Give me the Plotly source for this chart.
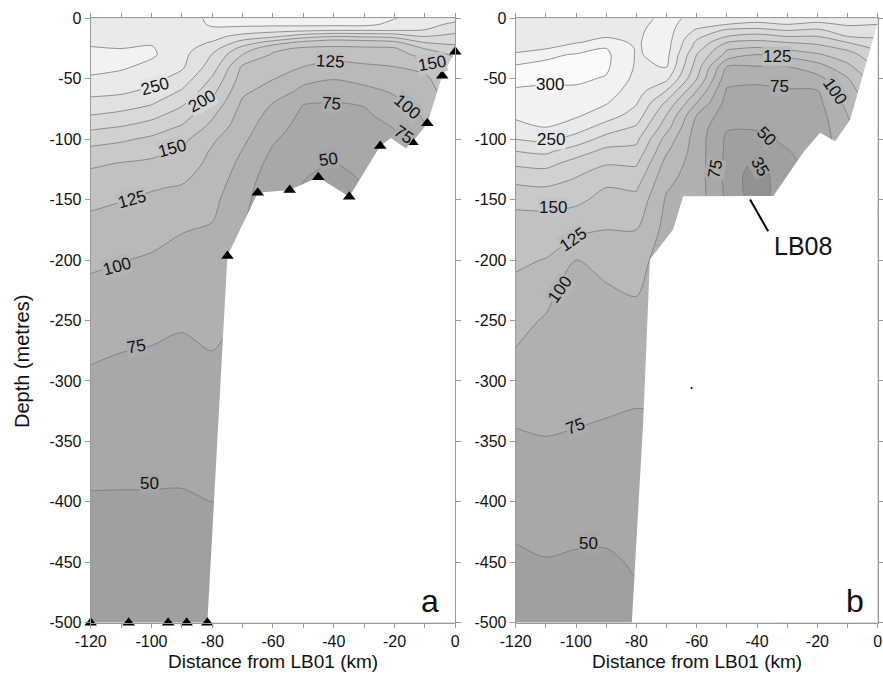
import numpy as np
import plotly.graph_objects as go

FONT = "Liberation Sans, Arial, sans-serif"

# ---------------- grid (distance from LB01, depth) ----------------
distance_km = [-120, -110, -100, -90, -80, -70, -60, -50, -40, -30, -20, -10, 0]
depth_m = [0, -5, -10, -15, -20, -25, -30, -40, -50, -60, -70, -80, -90, -100,
           -110, -120, -130, -140, -150, -175, -200, -250, -300, -350, -400, -450, -500]

# ---------------- panel a : value profiles per distance column ----------------
a_m120 = [262,265,268,271,273,276,282,282,272,258,242,225,205,185,168,154,145,138,130,117,104,86,71,59,48,44,41]
a_m110 = [262,265,268,271,273,275,280,279,266,255,238,219,199,179,163,149,141,134,126,113,101,83,68,58,48,44,41]
a_m100 = [263,266,269,271,273,277,279,268,258,245,228,208,188,170,156,146,138,127,121,109,97,80,68,58,48,44,41]
a_m90  = [262,263,263,262,261,260,258,254,240,223,205,188,172,157,147,139,131,123,117,101,93,77,67,57,48,44,41]
a_m80  = [281,278,270,259,248,236,224,213,197,183,169,154,143,129,122,118,114,110,106,98,91,80,70,60,50,45,42]
a_m70  = [282,280,265,240,215,190,175,146,138,130,121,115,110,105,99,94,90,86,83,76,74,72,66,58,50,45,42]
a_m60  = [285,281,258,230,188,156,147,138,126,115,100,92,86,78,72,66,61,57,55,53,52,50,48,46,44,42,41]
a_m50  = [285,282,254,210,168,146,138,125,107,94,76,70,65,61,58,55,51,49,48,47,47,46,45,44,43,42,41]
a_m40  = [285,282,250,200,158,146,136,116,101,87,74,68,63,58,54,50,46,44,43,43,43,43,43,43,42,42,41]
a_m30  = [285,282,250,203,162,146,138,121,107,94,77,71,66,62,58,55,52,50,49,48,47,46,45,44,43,42,41]
a_m20  = [276,268,250,208,168,147,141,125,113,103,95,85,76,71,68,66,64,62,60,58,56,54,52,50,48,46,44]
a_m10  = [265,258,249,225,200,176,158,134,119,114,108,103,99,96,94,92,90,88,86,84,82,80,78,76,74,72,70]
a_0    = [258,245,232,218,205,192,180,165,152,142,134,127,121,116,112,108,105,102,100,97,95,92,90,88,86,84,82]

# ---------------- panel b ----------------
b_m120 = [265,267,268,270,272,273,276,304,308,297,289,280,267,250,225,204,187,171,154,142,129,109,89,71,59,46,40]
b_m110 = [266,268,270,271,272,274,295,306,305,295,287,281,276,256,230,208,189,174,156,140,124,97,86,74,61,49,41]
b_m100 = [268,270,272,273,274,285,302,308,304,296,290,279,262,240,212,190,177,166,155,132,100,90,82,73,61,47,41]
b_m90  = [270,272,273,274,280,301,305,304,298,287,277,262,240,215,193,177,162,150,143,125,106,90,83,70,60,47,41]
b_m80  = [268,270,271,272,273,273,273,272,268,262,252,240,222,206,192,178,165,153,143,125,106,96,80,69,60,52,44]
b_m70  = [280,282,285,286,285,284,282,276,256,224,195,175,160,140,128,116,108,102,97,92,92,90,80,70,60,52,44]
b_m60  = [270,262,246,232,220,212,200,188,176,150,125,100,90,88,88,88,88,88,88,86,84,78,70,65,58,52,45]
b_m50  = [265,250,220,200,175,153,142,100,84,72,66,60,52,46,45,44,43,44,46,50,55,60,62,60,56,50,45]
b_m40  = [262,244,216,190,168,146,125,99,78,72,66,59,52,45,38,32,28,27,28,35,40,45,50,52,52,50,46]
b_m30  = [262,250,225,200,175,155,133,100,84,73,68,63,58,54,49,46,45,45,46,48,50,52,54,55,55,54,52]
b_m20  = [262,244,220,200,181,163,147,114,92,74,68,64,61,59,58,57,57,57,57,57,57,57,57,57,57,57,57]
b_m10  = [265,253,238,225,200,180,164,144,123,114,107,100,96,93,90,88,86,85,84,82,80,78,76,74,72,70,68]
b_0    = [260,250,240,228,215,205,195,180,165,150,140,132,126,120,116,112,108,105,102,98,95,92,90,88,86,84,82]

# ---------------- stations / bathymetry ----------------
station_x_a = [-120, -107.5, -94.5, -88.4, -81.6, -75, -65, -54.5, -45.1, -34.9, -24.7, -19.1, -14.1, -9.2, -4.3, 0]
station_d_a = [-500, -500, -500, -500, -500, -196.6, -144.3, -142, -131.5, -147.6, -105.6, -95, -102.6, -86.9, -47.5, -27.6]

bottom_x_b = [-81.5, -77.7, -75.5, -67.8, -64.5, -34.6, -24.7, -19.1, -14.1, -9.1, 0]
bottom_d_b = [-500, -332, -199.6, -174.7, -147.2, -147, -111, -94.7, -101.6, -83.7, -3.6]

# ---------------- contour labels ----------------
a_lab_x = [-98.8, -83.5, -93.3, -106.5, -41.2, -40.7, -41.8, -7.8, -16.0, -17.1, -111.4, -104.9, -100.5]
a_lab_d = [-56.8, -69.0, -107.5, -150.3, -35.9, -70.3, -117.2, -37.2, -73.1, -96.5, -205.5, -271.7, -384.7]
a_lab_t = ['250', '200', '150', '125', '125', '75', '50', '150', '100', '75', '100', '75', '50']
a_lab_ang = [-15, -30, -15, -15, 3, 5, -8, -10, 40, 35, -15, -10, 0]

b_lab_x = [-108.7, -108.2, -107.5, -100.9, -105.3, -100.3, -95.9, -33.5, -32.4, -14.1, -36.8, -39.0, -53.9]
b_lab_d = [-54.7, -100.2, -156.8, -183.0, -224.5, -337.6, -434.3, -31.2, -56.0, -60.2, -97.5, -122.3, -125.0]
b_lab_t = ['300', '250', '150', '125', '100', '75', '50', '125', '75', '100', '50', '35', '75']
b_lab_ang = [0, 0, 0, -35, -55, -20, 0, 0, 0, 55, 45, 60, -80]

x_tick_vals = [-120, -110, -100, -90, -80, -70, -60, -50, -40, -30, -20, -10, 0]
x_tick_text = ['-120', '', '-100', '', '-80', '', '-60', '', '-40', '', '-20', '', '0']
y_tick_vals = [0, -50, -100, -150, -200, -250, -300, -350, -400, -450, -500]
y_tick_text = ['0', '-50', '-100', '-150', '-200', '-250', '-300', '-350', '-400', '-450', '-500']

# ---------------- build ----------------
za = np.array([a_m120, a_m110, a_m100, a_m90, a_m80, a_m70, a_m60, a_m50, a_m40, a_m30, a_m20, a_m10, a_0], float).T
zb = np.array([b_m120, b_m110, b_m100, b_m90, b_m80, b_m70, b_m60, b_m50, b_m40, b_m30, b_m20, b_m10, b_0], float).T

G_LO, G_HI = 160, 250
grey_scale = [[0, f'rgb({G_LO},{G_LO},{G_LO})'], [1, f'rgb({G_HI},{G_HI},{G_HI})']]
LINE = dict(color='#7a7a7a', width=0.8, smoothing=0.8)


def grey_at(v):
    g = G_LO + (v - 37.5) / 275.0 * (G_HI - G_LO)
    g = int(max(140, min(G_HI, g)))
    return f'rgb({g},{g},{g})'


def main_contour(z, xa, ya):
    return go.Contour(x=distance_km, y=depth_m, z=z, xaxis=xa, yaxis=ya,
                      autocontour=False,
                      contours=dict(start=50, end=300, size=25, coloring='fill', showlabels=False),
                      colorscale=grey_scale, showscale=False, line=LINE, hoverinfo='skip')


fig = go.Figure()
# panel a
fig.add_trace(main_contour(za, 'x', 'y'))
poly_ax = station_x_a[4:] + [0, station_x_a[4]]
poly_ay = station_d_a[4:] + [-500, -500]
fig.add_trace(go.Scatter(x=poly_ax, y=poly_ay, xaxis='x', yaxis='y', mode='lines', fill='toself',
                         fillcolor='white', line=dict(width=0, color='white'), hoverinfo='skip'))
fig.add_trace(go.Scatter(x=station_x_a, y=station_d_a, xaxis='x', yaxis='y', mode='markers',
                         marker=dict(symbol='triangle-up', size=11, color='black'),
                         cliponaxis=False, hoverinfo='skip'))

# panel b
fig.add_trace(main_contour(zb, 'x2', 'y2'))
fig.add_trace(go.Contour(x=distance_km, y=depth_m, z=-zb, xaxis='x2', yaxis='y2',
                         autocontour=False,
                         contours=dict(start=-35, end=-34, size=10, coloring='fill', showlabels=False),
                         colorscale=[[0, 'rgba(255,255,255,0)'], [1, 'rgb(146,146,146)']],
                         showscale=False, line=LINE, hoverinfo='skip'))
poly_bx = bottom_x_b + [0, bottom_x_b[0]]
poly_by = bottom_d_b + [-500, -500]
fig.add_trace(go.Scatter(x=poly_bx, y=poly_by, xaxis='x2', yaxis='y2', mode='lines', fill='toself',
                         fillcolor='white', line=dict(width=0, color='white'), hoverinfo='skip'))
lb08_x = [-42.3, -36.3]
lb08_d = [-149.9, -176.2]
fig.add_trace(go.Scatter(x=lb08_x, y=lb08_d, xaxis='x2', yaxis='y2', mode='lines',
                         line=dict(color='black', width=2), hoverinfo='skip'))
fig.add_trace(go.Scatter(x=[-61.7], y=[-305.9], xaxis='x2', yaxis='y2', mode='markers',
                         marker=dict(size=2, color='black'), hoverinfo='skip'))

# annotations
ann = []
for xs, ds, ts, angs, xr, yr in [(a_lab_x, a_lab_d, a_lab_t, a_lab_ang, 'x', 'y'),
                                  (b_lab_x, b_lab_d, b_lab_t, b_lab_ang, 'x2', 'y2')]:
    for xv, dv, tv, av in zip(xs, ds, ts, angs):
        lvl = float(tv)
        ann.append(dict(x=xv, y=dv, xref=xr, yref=yr, text=tv, showarrow=False, textangle=av,
                        xanchor='center', yanchor='middle',
                        font=dict(size=17, color='#111', family=FONT),
                        bgcolor=grey_at(lvl), borderpad=0))

ann.append(dict(x=-8.3, y=-482, xref='x', yref='y', text='a', showarrow=False,
                xanchor='center', yanchor='middle', font=dict(size=32, color='#111', family=FONT)))
ann.append(dict(x=-7.5, y=-482, xref='x2', yref='y2', text='b', showarrow=False,
                xanchor='center', yanchor='middle', font=dict(size=32, color='#111', family=FONT)))
ann.append(dict(x=-24.8, y=-188.6, xref='x2', yref='y2', text='LB08', showarrow=False,
                xanchor='center', yanchor='middle', font=dict(size=25, color='#111', family=FONT)))
ann.append(dict(x=22 / 883, y=1 - 362 / 686, xref='paper', yref='paper', text='Depth (metres)',
                showarrow=False, textangle=-90, xanchor='center', yanchor='middle',
                font=dict(size=20, color='#111', family=FONT)))
ann.append(dict(x=273 / 883, y=1 - 661 / 686, xref='paper', yref='paper', text='Distance from LB01 (km)',
                showarrow=False, xanchor='center', yanchor='middle',
                font=dict(size=19, color='#111', family=FONT)))
ann.append(dict(x=697 / 883, y=1 - 661 / 686, xref='paper', yref='paper', text='Distance from LB01 (km)',
                showarrow=False, xanchor='center', yanchor='middle',
                font=dict(size=19, color='#111', family=FONT)))

AX = '#9a9a9a'


def xcfg(domain, anchor):
    return dict(domain=domain, anchor=anchor, range=[-120, 0], tickmode='array',
                tickvals=x_tick_vals, ticktext=x_tick_text, ticks='outside', ticklen=4,
                tickcolor=AX, showline=True, linecolor=AX, linewidth=1, mirror='ticks',
                showgrid=False, zeroline=False, automargin=False,
                tickfont=dict(size=16, color='#111', family=FONT))


def ycfg(anchor):
    return dict(domain=[0.0923, 0.9733], anchor=anchor, range=[-500, 0], tickmode='array',
                tickvals=y_tick_vals, ticktext=y_tick_text, ticks='outside', ticklen=5,
                tickcolor=AX, showline=True, linecolor=AX, linewidth=1, mirror='ticks',
                showgrid=False, zeroline=False, automargin=False,
                tickfont=dict(size=16, color='#111', family=FONT))


fig.update_layout(
    width=883, height=686, margin=dict(l=0, r=0, t=0, b=0, autoexpand=False),
    paper_bgcolor='white', plot_bgcolor='white', showlegend=False,
    xaxis=xcfg([0.1027, 0.5156], 'y'), yaxis=ycfg('x'),
    xaxis2=xcfg([0.5840, 0.9940], 'y2'), yaxis2=ycfg('x2'),
    annotations=ann,
)

fig.write_html("out.html", config={'displayModeBar': False},
               post_script="document.body.style.margin='0px';document.body.style.padding='0px';")
